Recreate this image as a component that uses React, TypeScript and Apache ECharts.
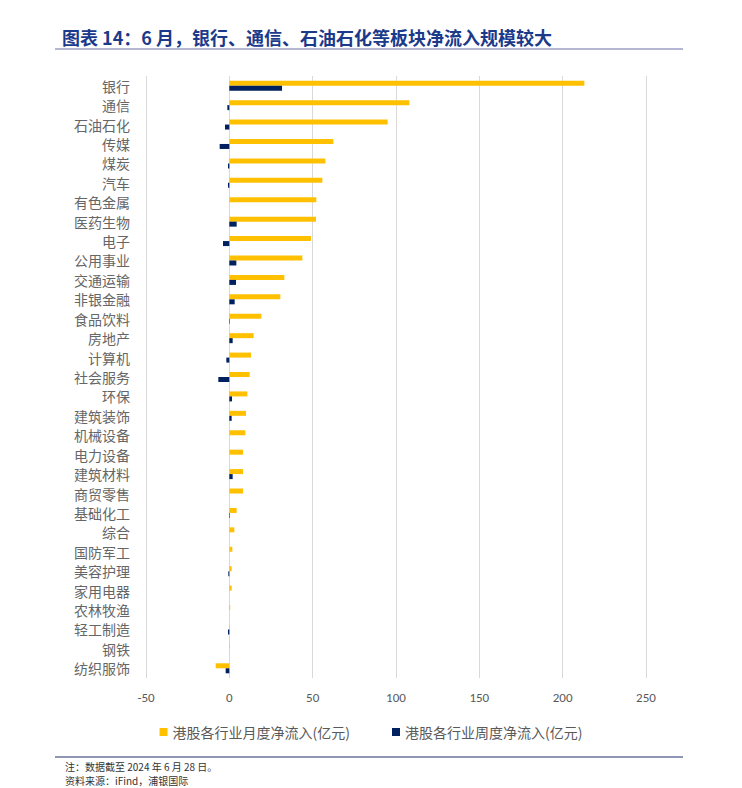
import React, { useEffect, useRef } from "react";
import * as echarts from "echarts";

const categories = [
  "银行", "通信", "石油石化", "传媒", "煤炭", "汽车", "有色金属", "医药生物", "电子", "公用事业",
  "交通运输", "非银金融", "食品饮料", "房地产", "计算机", "社会服务", "环保", "建筑装饰", "机械设备", "电力设备",
  "建筑材料", "商贸零售", "基础化工", "综合", "国防军工", "美容护理", "家用电器", "农林牧渔", "轻工制造", "钢铁", "纺织服饰",
];

const monthlyInflow = [
  213, 108, 95, 62.4, 57.6, 55.8, 52.2, 52, 49, 43.8,
  33, 30.6, 19.2, 14.6, 13, 12.2, 10.8, 10, 9.6, 8.2,
  8.2, 8.2, 4.4, 3.0, 1.8, 1.4, 1.4, 0.5, 0.2, 0.3, -8.2,
];

const weeklyInflow = [
  31.6, -1.2, -2.6, -5.8, -0.8, -0.8, 0, 4.4, -3.8, 4.2,
  4.0, 3.2, 0.3, 2.0, -1.8, -6.6, 1.6, 1.4, 0, 0,
  2.0, 0, 0.3, 0, 0, -0.6, 0, 0, -0.8, 0, -2.2,
];

const xTicks = { min: -50, max: 250, interval: 50 };

const seriesNames = ["港股各行业月度净流入(亿元)", "港股各行业周度净流入(亿元)"];

export default function App() {
  const ref = useRef<HTMLDivElement>(null);
  useEffect(() => {
    if (!ref.current) return;
    const chart = echarts.init(ref.current, undefined, { renderer: "svg" });
    const grey = "#595959";
    chart.setOption({
      animation: false,
      backgroundColor: "#ffffff",
      textStyle: { fontFamily: "'Noto Sans CJK SC', sans-serif" },
      grid: { left: 146, right: 96, top: 76, bottom: 110, containLabel: false },
      xAxis: {
        type: "value",
        min: xTicks.min,
        max: xTicks.max,
        interval: xTicks.interval,
        axisLine: { show: false },
        axisTick: { show: false },
        splitLine: { show: true, lineStyle: { color: "#d9d9d9", width: 1 } },
        axisLabel: { color: grey, fontSize: 13, margin: 13, fontFamily: "Carlito, 'Liberation Sans', sans-serif" },
      },
      yAxis: {
        type: "category",
        data: categories,
        inverse: true,
        axisLine: { show: false },
        axisTick: { show: false },
        axisLabel: { color: "#666666", fontSize: 14, margin: 16, interval: 0, fontFamily: "'Noto Sans CJK SC', sans-serif" },
      },
      legend: {
        top: 720,
        left: "center",
        icon: "rect",
        itemWidth: 8,
        itemHeight: 8,
        itemGap: 42,
        textStyle: { color: grey, fontSize: 14, fontFamily: "'Noto Sans CJK SC', sans-serif" },
        data: seriesNames,
      },
      series: [
        {
          name: seriesNames[0],
          type: "bar",
          data: monthlyInflow,
          barWidth: 5,
          barGap: "0%",
          itemStyle: { color: "#FFC000" },
        },
        {
          name: seriesNames[1],
          type: "bar",
          data: weeklyInflow,
          barWidth: 5,
          barGap: "0%",
          itemStyle: { color: "#002060" },
        },
      ],
      graphic: [
        {
          type: "text",
          left: 62,
          top: 28,
          style: {
            text: "图表 14：6 月，银行、通信、石油石化等板块净流入规模较大",
            fill: "#1b3a8a",
            fontSize: 18,
            fontWeight: "bold",
            fontFamily: "'Noto Sans CJK SC', sans-serif",
          },
        },
        {
          type: "line",
          shape: { x1: 55, y1: 49, x2: 683, y2: 49 },
          style: { stroke: "#6b6ba8", lineWidth: 1 },
        },
        {
          type: "line",
          shape: { x1: 55, y1: 757, x2: 683, y2: 757 },
          style: { stroke: "#1f2f6b", lineWidth: 1 },
        },
        {
          type: "text",
          left: 65,
          top: 761,
          style: {
            text: "注：数据截至 2024 年 6 月 28 日。",
            fill: "#333333",
            fontSize: 10,
            fontFamily: "'Noto Sans CJK SC', sans-serif",
          },
        },
        {
          type: "text",
          left: 65,
          top: 775,
          style: {
            text: "资料来源：iFind，浦银国际",
            fill: "#333333",
            fontSize: 10,
            fontFamily: "'Noto Sans CJK SC', sans-serif",
          },
        },
      ],
    });
    return () => chart.dispose();
  }, []);
  return (
    <div
      ref={ref}
      style={{ position: "fixed", left: 0, top: 0, width: 742, height: 788 }}
    />
  );
}
